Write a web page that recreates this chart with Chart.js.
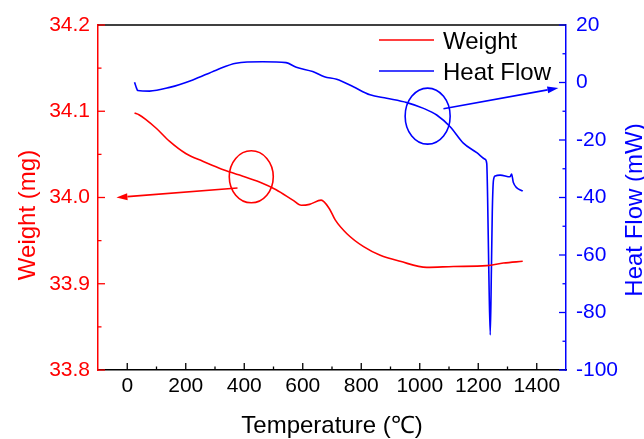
<!DOCTYPE html>
<html>
<head>
<meta charset="utf-8">
<script src="https://cdn.jsdelivr.net/npm/chart.js@4.4.1/dist/chart.umd.min.js"></script>
<style>
  body { margin: 0; background: #fff; }
</style>
</head>
<body>
<canvas id="chart" width="644" height="439"></canvas>
<script>
// TGA / DSC traces
const weightTemp = [25, 40, 65, 100, 145, 200, 258, 315, 384, 452, 509, 566, 595, 623, 663, 691, 711, 751, 808, 865, 933, 1024, 1115, 1229, 1286, 1352];
const weightMg = [34.098, 34.096, 34.090, 34.080, 34.065, 34.051, 34.042, 34.034, 34.026, 34.018, 34.009, 33.997, 33.991, 33.992, 33.997, 33.987, 33.974, 33.958, 33.943, 33.933, 33.926, 33.919, 33.920, 33.921, 33.924, 33.926];

const heatTemp = [25, 30, 36, 76, 145, 224, 304, 372, 463, 543, 578, 634, 674, 716, 773, 830, 887, 956, 1013, 1058, 1104, 1149, 1195, 1223, 1229, 1232, 1236, 1241, 1245, 1248, 1252, 1258, 1275, 1309, 1314, 1320, 1352];
const heatMw = [0.1, -1.5, -2.8, -3.0, -1.7, 0.9, 4.3, 6.7, 7.2, 6.9, 5.3, 3.8, 2.0, 1.1, -1.5, -4.3, -5.5, -7.0, -9.0, -11.3, -15.4, -21.1, -24.4, -26.7, -28.1, -40, -65, -87.8, -65, -45, -34, -32.5, -32.2, -32.8, -31.8, -34.8, -37.8];

const xTicks = [0, 200, 400, 600, 800, 1000, 1200, 1400];
const weightTicks = [33.8, 33.9, 34.0, 34.1, 34.2];
const heatTicks = [-100, -80, -60, -40, -20, 0, 20];

const RED = '#ff0000';
const BLUE = '#0000ff';
const FONT = '"Liberation Sans", Arial, sans-serif';

// circles + arrows, anchored in data units
const callouts = [
  { axis: 'yWeight', color: RED, cx: 424, cy: 34.024, rx: 22, ry: 26, from: [377, 34.011], to: [-37, 34.0] },
  { axis: 'yHeat', color: BLUE, cx: 1027, cy: -11.7, rx: 22.5, ry: 28, from: [1081, -9.1], to: [1474, -1.9] }
];

const toPoints = (xs, ys) => xs.map((x, i) => ({ x: x, y: ys[i] }));

function seg(ctx, x1, y1, x2, y2) {
  ctx.beginPath();
  ctx.moveTo(x1, y1);
  ctx.lineTo(x2, y2);
  ctx.stroke();
}

function arrow(ctx, x1, y1, x2, y2) {
  const ang = Math.atan2(y2 - y1, x2 - x1);
  const len = 11, half = 3.5;
  const bx = x2 - len * Math.cos(ang), by = y2 - len * Math.sin(ang);
  seg(ctx, x1, y1, bx, by);
  ctx.beginPath();
  ctx.moveTo(x2, y2);
  ctx.lineTo(bx + half * Math.sin(ang), by - half * Math.cos(ang));
  ctx.lineTo(bx - half * Math.sin(ang), by + half * Math.cos(ang));
  ctx.closePath();
  ctx.fill();
}

const decorations = {
  id: 'decorations',
  afterDraw(chart) {
    const { ctx, chartArea: a, scales } = chart;
    const sx = scales.x, sw = scales.yWeight, sh = scales.yHeat;
    ctx.save();
    ctx.lineCap = 'butt';

    // top frame
    ctx.strokeStyle = '#000';
    ctx.lineWidth = 1.5;
    seg(ctx, a.left, a.top, a.right, a.top);

    // inward tick marks, major + minor
    const mids = t => t.slice(1).map((v, i) => (v + t[i]) / 2);
    ctx.lineWidth = 1.3;
    ctx.strokeStyle = '#000';
    xTicks.forEach(v => { const p = sx.getPixelForValue(v); seg(ctx, p, a.bottom, p, a.bottom - 7); });
    mids(xTicks).forEach(v => { const p = sx.getPixelForValue(v); seg(ctx, p, a.bottom, p, a.bottom - 3.5); });
    ctx.strokeStyle = RED;
    weightTicks.forEach(v => { const p = sw.getPixelForValue(v); seg(ctx, a.left, p, a.left + 7, p); });
    mids(weightTicks).forEach(v => { const p = sw.getPixelForValue(v); seg(ctx, a.left, p, a.left + 3.5, p); });
    ctx.strokeStyle = BLUE;
    heatTicks.forEach(v => { const p = sh.getPixelForValue(v); seg(ctx, a.right, p, a.right - 7, p); });
    mids(heatTicks).forEach(v => { const p = sh.getPixelForValue(v); seg(ctx, a.right, p, a.right - 3.5, p); });

    // callouts
    ctx.lineWidth = 1.6;
    callouts.forEach(c => {
      const sy = scales[c.axis];
      ctx.strokeStyle = c.color;
      ctx.fillStyle = c.color;
      ctx.beginPath();
      ctx.ellipse(sx.getPixelForValue(c.cx), sy.getPixelForValue(c.cy), c.rx, c.ry, 0, 0, Math.PI * 2);
      ctx.stroke();
      arrow(ctx, sx.getPixelForValue(c.from[0]), sy.getPixelForValue(c.from[1]),
                 sx.getPixelForValue(c.to[0]), sy.getPixelForValue(c.to[1]));
    });

    // legend
    ctx.font = '24px ' + FONT;
    ctx.textAlign = 'left';
    ctx.textBaseline = 'alphabetic';
    chart.data.datasets.forEach((ds, i) => {
      const y = a.top + 15 + i * 31;
      ctx.strokeStyle = ds.borderColor;
      ctx.lineWidth = 1.6;
      seg(ctx, a.right - 187, y, a.right - 132, y);
      ctx.fillStyle = '#000';
      ctx.fillText(ds.label, a.right - 123, y + 9);
    });

    // axis titles
    ctx.textAlign = 'center';
    ctx.fillStyle = '#000';
    ctx.textBaseline = 'middle';
    ctx.fillText('Temperature (\u2103)', (a.left + a.right) / 2, 426);

    ctx.textBaseline = 'alphabetic';
    ctx.save();
    ctx.translate(35, 215);
    ctx.rotate(-Math.PI / 2);
    ctx.fillStyle = RED;
    ctx.fillText('Weight (mg)', 0, 0);
    ctx.restore();

    ctx.save();
    ctx.translate(642, 210);
    ctx.rotate(-Math.PI / 2);
    ctx.fillStyle = BLUE;
    ctx.fillText('Heat Flow (mW)', 0, 0);
    ctx.restore();

    ctx.restore();
  }
};

const fixTicks = list => axis => { axis.ticks = list.map(v => ({ value: v })); };

new Chart(document.getElementById('chart'), {
  type: 'line',
  data: {
    datasets: [
      {
        label: 'Weight',
        data: toPoints(weightTemp, weightMg),
        yAxisID: 'yWeight',
        borderColor: RED,
        borderWidth: 1.6,
        pointRadius: 0,
        cubicInterpolationMode: 'monotone'
      },
      {
        label: 'Heat Flow',
        data: toPoints(heatTemp, heatMw),
        yAxisID: 'yHeat',
        borderColor: BLUE,
        borderWidth: 1.6,
        pointRadius: 0,
        cubicInterpolationMode: 'monotone'
      }
    ]
  },
  options: {
    responsive: false,
    animation: false,
    devicePixelRatio: 1,
    layout: { padding: { top: 25, left: 0, right: 0, bottom: 0 } },
    plugins: { legend: { display: false }, tooltip: { enabled: false } },
    scales: {
      x: {
        type: 'linear',
        position: 'bottom',
        min: -100,
        max: 1500,
        grid: { display: false, drawTicks: false },
        border: { color: '#000', width: 1.5 },
        ticks: { color: '#000', font: { size: 21, family: FONT }, padding: 4, maxRotation: 0, callback: v => String(v) },
        afterBuildTicks: fixTicks(xTicks),
        afterFit: s => { s.height = 69; }
      },
      yWeight: {
        type: 'linear',
        position: 'left',
        min: 33.8,
        max: 34.2,
        grid: { display: false, drawTicks: false },
        border: { color: RED, width: 1.5 },
        ticks: { color: RED, font: { size: 21, family: FONT }, padding: 8, callback: v => v.toFixed(1) },
        afterBuildTicks: fixTicks(weightTicks),
        afterFit: s => { s.width = 98; }
      },
      yHeat: {
        type: 'linear',
        position: 'right',
        min: -100,
        max: 20,
        grid: { display: false, drawTicks: false },
        border: { color: BLUE, width: 1.5 },
        ticks: { color: BLUE, font: { size: 21, family: FONT }, padding: 10, callback: v => String(v) },
        afterBuildTicks: fixTicks(heatTicks),
        afterFit: s => { s.width = 78; }
      }
    }
  },
  plugins: [decorations]
});
</script>
</body>
</html>
